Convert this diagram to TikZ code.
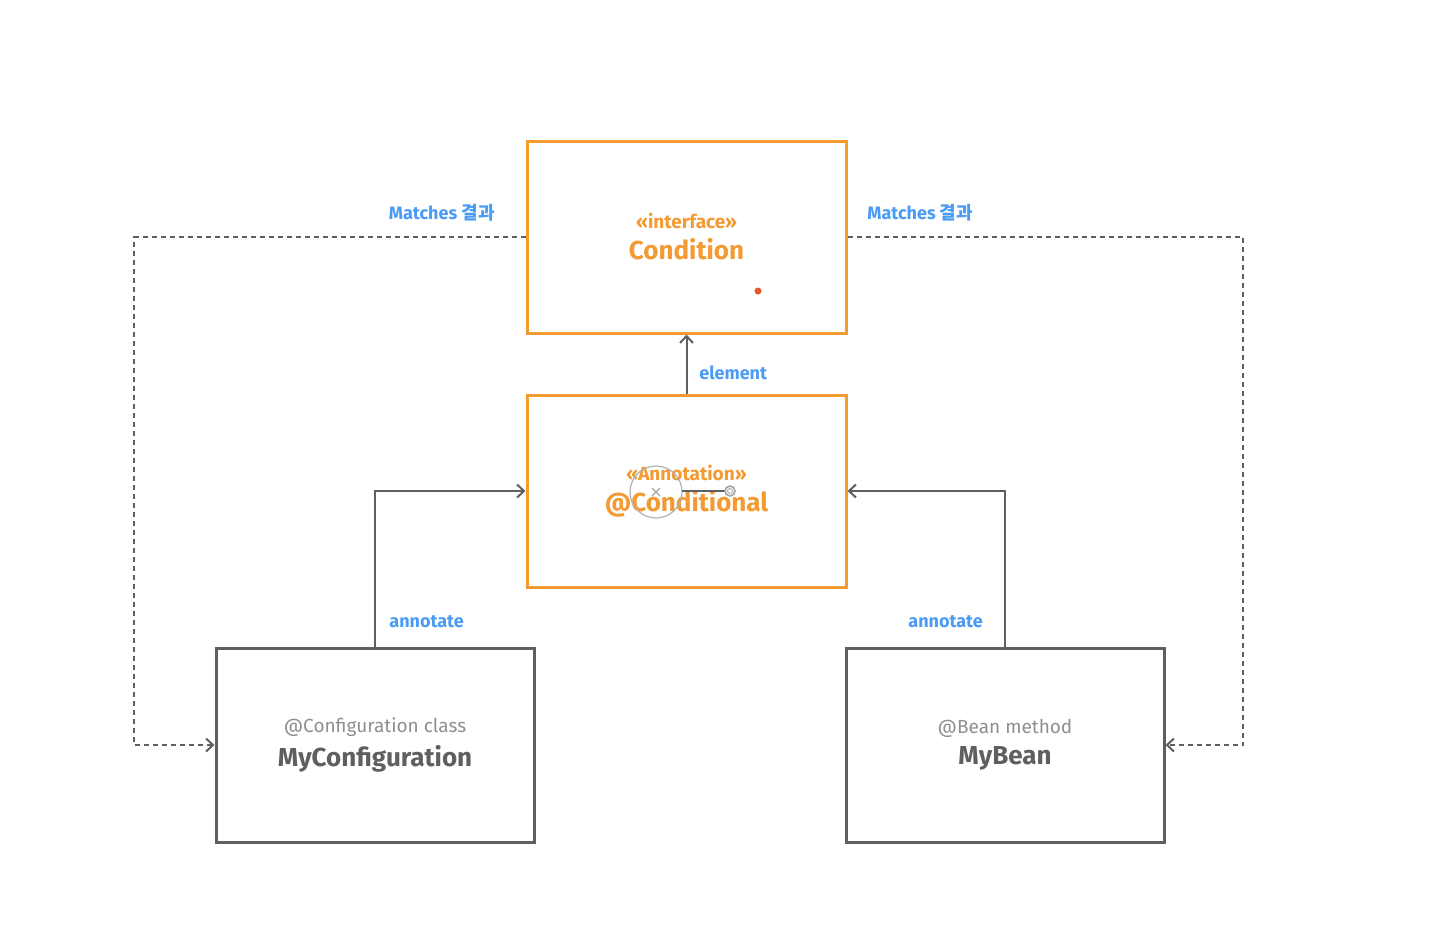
\documentclass[tikz,border=0pt]{standalone}
\usepackage{fontspec}
\setmainfont{Fira Sans}
\newfontfamily\kr{Noto Sans CJK KR}
\usetikzlibrary{arrows.meta}
\definecolor{orng}{HTML}{F39A33}
\definecolor{dotred}{HTML}{E8562A}
\definecolor{lblue}{HTML}{4A9BF5}
\definecolor{dgray}{HTML}{5F5F5F}
\definecolor{lgray}{HTML}{8F8F8F}
\newcommand{\stereofont}{\fontsize{9.5}{10}\selectfont\bfseries}
\newcommand{\bigfont}{\fontsize{13}{14}\selectfont\bfseries}
\newcommand{\subfont}{\fontsize{9.5}{10}\selectfont}
\begin{document}
\begin{tikzpicture}[x=0.5pt,y=-0.5pt,
  obox/.style={draw=orng,line width=1.5pt,minimum width=159.5pt,minimum height=96pt,inner sep=0pt,align=center,text=orng},
  gbox/.style={draw=dgray,line width=1.5pt,minimum width=159pt,minimum height=97pt,inner sep=0pt,align=center,text=dgray},
  conn/.style={draw=dgray,line width=1pt,-{Straight Barb[length=3.5pt,width=6.5pt,line width=1pt]}},
  dconn/.style={conn,dash pattern=on 2.5pt off 2pt},
  lbl/.style={text=lblue,font=\fontsize{9}{10}\selectfont\bfseries,inner sep=0pt}
]
\useasboundingbox (0,0) rectangle (1429,928);
\fill[white] (0,0) rectangle (1429,928);

\node[obox] (cond) at (686.5,237) {{\stereofont «interface»}\\[3.5pt]{\bigfont Condition}};
\node[obox] (condl) at (686.5,491) {{\stereofont «Annotation»}\\[3.5pt]{\bigfont @Conditional}};
\node[gbox] (cfg) at (375,745) {{\subfont\color{lgray}@Configuration class}\\[3.5pt]{\bigfont MyConfiguration}};
\node[gbox] (bean) at (1005,745) {{\subfont\color{lgray}@Bean method}\\[3.5pt]{\bigfont MyBean}};

% decorations seen in the reference
\fill[dotred] (758,291) circle (3.5);
\draw[lgray!70,line width=0.6pt] (656,492) circle (26);
\draw[lgray!80,line width=0.6pt] (652,488) -- (660,496) (652,496) -- (660,488);
\coordinate (hA) at (682,491);
\coordinate (hB) at (725,491);
\draw[dgray,line width=0.8pt] (hA) -- (hB);
\node[draw=lgray!80,fill=white,circle,line width=0.8pt,minimum size=5pt,inner sep=0pt] (hdl) at (730,491) {};
\node[draw=lgray!60,circle,line width=0.6pt,minimum size=2.5pt,inner sep=0pt] at (hdl) {};

% connectors
\draw[conn] (condl.north) -- (cond.south);
\node[lbl,anchor=west] (el) at (699,373) {element};

\draw[conn] (cfg.north) |- (condl.west);
\node[lbl,anchor=west] (an1) at (389,622) {annotate};
\draw[conn] (bean.north) |- (condl.east);
\node[lbl,anchor=west] (an2) at (908,622) {annotate};

\draw[dconn] (cond.west) -- (134,237) |- (cfg.west);
\node[lbl,anchor=east] (m1) at (495,213) {Matches {\kr 결과}};
\draw[dconn] (cond.east) -- (1243,237) |- (bean.east);
\node[lbl,anchor=west] (m2) at (867,213) {Matches {\kr 결과}};
\end{tikzpicture}
\end{document}
